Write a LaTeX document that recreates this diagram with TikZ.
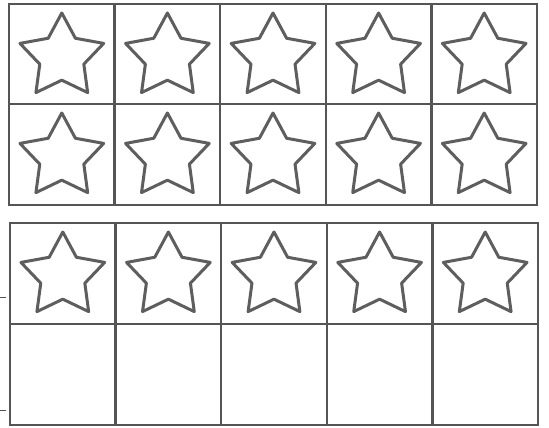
\documentclass[tikz,border=0pt]{standalone}
\usetikzlibrary{shapes.geometric}
\definecolor{gridgray}{HTML}{555555}
\definecolor{stargray}{HTML}{5E5E5E}
\begin{document}
\begin{tikzpicture}[x=1pt,y=-1pt,
  frameline/.style={draw=gridgray,line width=2.4pt},
  starshape/.style={star,star points=5,star point ratio=1.9,minimum size=88pt,inner sep=0pt,draw=stargray,line width=3pt,line join=round},
  tickline/.style={draw=gridgray,line width=1pt}]
\useasboundingbox[fill=white] (0,0) rectangle (549,428);
% top ten-frame
\draw[frameline] (9,4) rectangle (537,205);
\draw[frameline] (9,104) -- (537,104);
\foreach \i in {1,...,4} {\draw[frameline] ({9+105.6*\i},4) -- ({9+105.6*\i},205);}
% bottom ten-frame
\draw[frameline] (10,223) rectangle (538,425);
\draw[frameline] (10,324) -- (538,324);
\foreach \i in {1,...,4} {\draw[frameline] ({10+105.6*\i},223) -- ({10+105.6*\i},425);}
% stars
\foreach \i in {0,...,4} {
  \node[starshape] (sa\i) at ({9+52.8+105.6*\i},57) {};
  \node[starshape] (sb\i) at ({9+52.8+105.6*\i},157) {};
  \node[starshape] (sc\i) at ({10+52.8+105.6*\i},276) {};
}
% left ticks
\coordinate (t1a) at (0,297); \coordinate (t1b) at (6,297);
\coordinate (t2a) at (0,410); \coordinate (t2b) at (6,410);
\draw[tickline] (t1a) -- (t1b);
\draw[tickline] (t2a) -- (t2b);
\end{tikzpicture}
\end{document}
